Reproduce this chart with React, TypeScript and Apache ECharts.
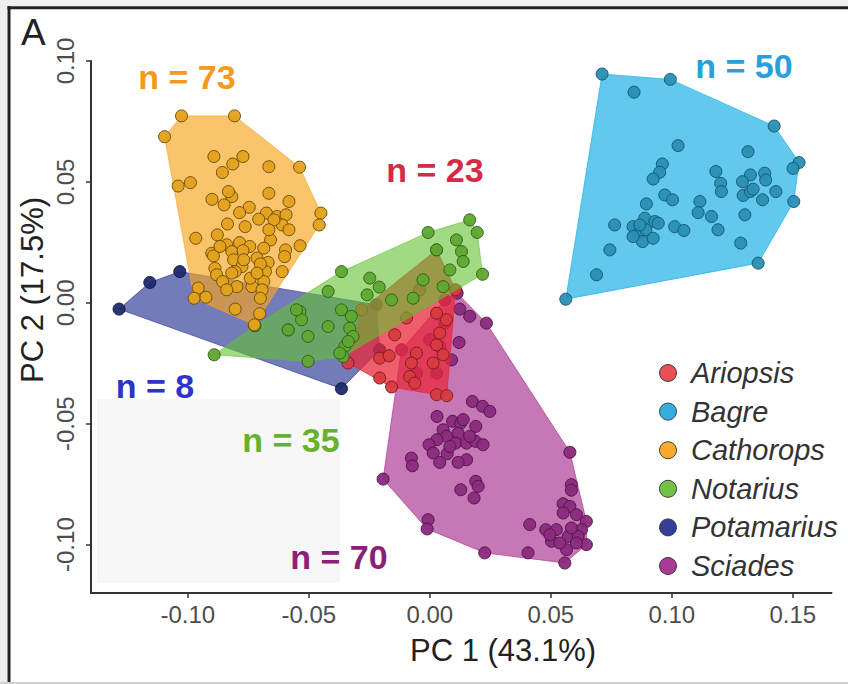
import React, { useEffect, useRef } from 'react';
import * as echarts from 'echarts';

const groups = ['Ariopsis', 'Bagre', 'Cathorops', 'Notarius', 'Potamarius', 'Sciades'];

const ariopsis: number[][] = [
  [-0.0338, -0.0249], [-0.0207, -0.0229], [-0.0168, -0.0219], [-0.0207, -0.0311], [-0.0158, -0.0348],
  [-0.0083, -0.0305], [-0.0062, -0.0332], [-0.0055, -0.0208], [-0.0076, -0.0249], [0.0014, -0.0249],
  [0.0055, -0.0215], [0.0028, -0.0380], [0.0041, -0.0125], [0.0069, -0.0070], [0.0028, -0.0043],
  [-0.0096, -0.0063], [0.0028, -0.0174], [-0.0282, -0.0029], [0.0028, 0.0219], [0.0107, 0.0054],
  [-0.0041, 0.0054], [-0.0145, -0.0132], [0.0070, -0.0384],
];

const bagre: number[][] = [
  [0.0712, 0.0946], [0.0994, 0.0924], [0.0844, 0.0871], [0.1423, 0.0731], [0.1526, 0.0580],
  [0.1501, 0.0556], [0.1504, 0.0419], [0.1357, 0.0164], [0.0562, 0.0015], [0.0689, 0.0116],
  [0.0744, 0.0219], [0.0764, 0.0322], [0.1026, 0.0650], [0.0961, 0.0574], [0.0950, 0.0540],
  [0.0923, 0.0512], [0.0971, 0.0446], [0.1003, 0.0426], [0.0895, 0.0409], [0.0888, 0.0350],
  [0.0840, 0.0315], [0.0861, 0.0285], [0.0930, 0.0336], [0.0893, 0.0302], [0.0879, 0.0253],
  [0.0923, 0.0267], [0.1012, 0.0315], [0.1050, 0.0299], [0.1116, 0.0419], [0.1109, 0.0373],
  [0.1164, 0.0357], [0.1191, 0.0302], [0.1182, 0.0543], [0.1202, 0.0494], [0.1205, 0.0460],
  [0.1315, 0.0625], [0.1325, 0.0529], [0.1292, 0.0501], [0.1295, 0.0444], [0.1325, 0.0460],
  [0.1384, 0.0536], [0.1388, 0.0508], [0.1375, 0.0426], [0.1430, 0.0460], [0.1302, 0.0364],
  [0.1285, 0.0247], [0.1336, 0.0470], [0.0868, 0.0322], [0.0840, 0.0274], [0.0944, 0.0329],
];

const cathorops: number[][] = [
  [-0.1026, 0.0773], [-0.0807, 0.0773], [-0.1096, 0.0687], [-0.0892, 0.0605], [-0.0772, 0.0605],
  [-0.0814, 0.0574], [-0.0857, 0.0539], [-0.0665, 0.0563], [-0.0538, 0.0561], [-0.1040, 0.0483],
  [-0.0989, 0.0497], [-0.0900, 0.0428], [-0.0818, 0.0439], [-0.0850, 0.0405], [-0.0665, 0.0453],
  [-0.0582, 0.0419], [-0.0746, 0.0395], [-0.0786, 0.0373], [-0.0675, 0.0371], [-0.0631, 0.0357],
  [-0.0594, 0.0364], [-0.0707, 0.0346], [-0.0836, 0.0326], [-0.0610, 0.0322], [-0.0582, 0.0302],
  [-0.0450, 0.0371], [-0.0457, 0.0322], [-0.0967, 0.0267], [-0.0878, 0.0281], [-0.0839, 0.0240],
  [-0.0786, 0.0249], [-0.0744, 0.0233], [-0.0658, 0.0260], [-0.0686, 0.0226], [-0.0596, 0.0219],
  [-0.0536, 0.0236], [-0.0901, 0.0205], [-0.0818, 0.0212], [-0.0772, 0.0216], [-0.0811, 0.0178],
  [-0.0714, 0.0185], [-0.0600, 0.0191], [-0.0668, 0.0167], [-0.0888, 0.0143], [-0.0776, 0.0150],
  [-0.0804, 0.0129], [-0.0679, 0.0129], [-0.0881, 0.0116], [-0.0856, 0.0088], [-0.0797, 0.0067],
  [-0.0735, 0.0067], [-0.0686, 0.0088], [-0.0839, 0.0054], [-0.0693, 0.0054], [-0.0957, 0.0061],
  [-0.0974, 0.0019], [-0.0925, 0.0023], [-0.0804, -0.0026], [-0.0700, 0.0019], [-0.0703, -0.0045],
  [-0.0725, -0.0091], [-0.0742, 0.0102], [-0.0644, 0.0343], [-0.0700, 0.0161], [-0.0832, 0.0460],
  [-0.0894, 0.0194], [-0.0769, 0.0178], [-0.0714, 0.0123], [-0.0665, 0.0302], [-0.0610, 0.0129],
  [-0.0763, 0.0315], [-0.0818, 0.0123], [-0.0867, 0.0233],
];

const notarius: number[][] = [
  [0.0165, 0.0343], [0.0196, 0.0291], [0.0218, 0.0118], [-0.0007, 0.0291], [-0.0365, 0.0129],
  [-0.0248, 0.0102], [-0.0209, 0.0065], [-0.0259, 0.0033], [-0.0420, 0.0047], [-0.0537, -0.0036],
  [-0.0530, -0.0070], [-0.0365, -0.0029], [-0.0324, -0.0056], [-0.0420, -0.0098], [-0.0503, -0.0139],
  [-0.0331, -0.0105], [-0.0317, -0.0139], [-0.0351, -0.0180], [-0.0358, -0.0222], [-0.0503, -0.0242],
  [0.0028, 0.0219], [0.0131, 0.0212], [0.0138, 0.0171], [0.0083, 0.0136], [-0.0028, 0.0095],
  [-0.0069, 0.0019], [-0.0158, 0.0012], [-0.0337, -0.0160], [-0.0372, -0.0208], [-0.0891, -0.0215],
  [-0.0723, -0.0095], [-0.0585, -0.0112], [-0.0551, -0.0029], [0.0055, 0.0067], [0.0110, 0.0260],
];

const potamarius: number[][] = [
  [-0.1284, -0.0026], [-0.1157, 0.0084], [-0.1033, 0.0129], [-0.0365, -0.0355],
  [-0.0221, -0.0008], [-0.0207, -0.0194], [-0.0585, -0.0112], [-0.0723, -0.0095],
];

const sciades: number[][] = [
  [0.0113, 0.0040], [0.0124, -0.0026], [0.0165, -0.0056], [0.0234, -0.0084], [0.0121, -0.0164],
  [0.0176, -0.0408], [0.0218, -0.0428], [0.0248, -0.0449], [0.0030, -0.0470], [0.0094, -0.0490],
  [0.0128, -0.0497], [0.0190, -0.0511], [0.0055, -0.0525], [0.0117, -0.0539], [0.0069, -0.0552],
  [0.0030, -0.0566], [-0.0003, -0.0587], [0.0107, -0.0580], [0.0152, -0.0580], [0.0189, -0.0573],
  [0.0220, -0.0587], [0.0072, -0.0624], [0.0152, -0.0649], [0.0117, -0.0660], [0.0041, -0.0660],
  [-0.0076, -0.0642], [-0.0072, -0.0674], [-0.0193, -0.0729], [0.0190, -0.0738], [0.0128, -0.0773],
  [0.0183, -0.0807], [0.0579, -0.0618], [0.0585, -0.0752], [0.0585, -0.0775], [0.0551, -0.0831],
  [0.0579, -0.0842], [0.0606, -0.0876], [0.0647, -0.0904], [0.0627, -0.0938], [0.0413, -0.0917],
  [0.0479, -0.0938], [0.0523, -0.0938], [0.0503, -0.0986], [0.0572, -0.0966], [0.0647, -0.1000],
  [0.0565, -0.1021], [0.0558, -0.1076], [0.0406, -0.1034], [0.0227, -0.1034], [-0.0007, -0.0897],
  [-0.0011, -0.0935], [-0.0117, -0.0194], [0.0062, -0.0084], [0.0000, -0.0153], [0.0090, -0.0236],
  [0.0138, -0.0483], [0.0083, -0.0594], [0.0165, -0.0552], [0.0537, -0.0993], [0.0613, -0.0966],
  [0.0551, -0.0869], [0.0585, -0.0931], [0.0496, -0.0959], [0.0014, -0.0621], [0.0200, -0.0759],
  [0.0606, -0.0993], [-0.0055, -0.0291], [0.0041, -0.0180], [0.0062, 0.0012], [0.0028, -0.0291],
];

const groupData: Record<string, number[][]> = {
  Ariopsis: ariopsis, Bagre: bagre, Cathorops: cathorops,
  Notarius: notarius, Potamarius: potamarius, Sciades: sciades,
};

const xTicks = [-0.1, -0.05, 0, 0.05, 0.1, 0.15];
const yTicks = [-0.1, -0.05, 0, 0.05, 0.1];

const countLabels = ['n = 23', 'n = 50', 'n = 73', 'n = 35', 'n = 8', 'n = 70'];

// styles
const hullFill: Record<string, string> = {
  Ariopsis: 'rgba(232,40,58,0.75)',
  Bagre: 'rgba(31,176,230,0.7)',
  Cathorops: 'rgba(247,165,31,0.65)',
  Notarius: 'rgba(98,194,46,0.6)',
  Potamarius: 'rgba(42,52,148,0.65)',
  Sciades: 'rgba(168,48,143,0.65)',
};
const ptFill: Record<string, string> = {
  Ariopsis: '#d83a3f', Bagre: '#2a8fb5', Cathorops: '#e3a21e',
  Notarius: '#5ea832', Potamarius: '#1f2a6b', Sciades: '#8a2a7d',
};
const ptBorder: Record<string, string> = {
  Ariopsis: '#7a1c20', Bagre: '#17566f', Cathorops: '#6e4b06',
  Notarius: '#335e18', Potamarius: '#0f1640', Sciades: '#4f1547',
};
const legendColor: Record<string, string> = {
  Ariopsis: '#e8474c', Bagre: '#2aa9df', Cathorops: '#f5a623',
  Notarius: '#6abd3c', Potamarius: '#283593', Sciades: '#a3308d',
};
const labelColors = ['#d42a45', '#2b9fd9', '#f39a1f', '#66b22c', '#2f33c8', '#8c2079'];
const labelPos = [[435, 170], [744, 66], [187, 77], [291, 440], [155, 386], [339, 557]];

// stacking: [hull z, points z]
const layerZ: Record<string, number[]> = {
  Sciades: [2, 3],
  Potamarius: [4, 4.5],
  Ariopsis: [5, 6],
  Notarius: [7, 8],
  Cathorops: [9, 10],
  Bagre: [11, 12],
};

const FONT = '"Liberation Sans", Arial, Helvetica, sans-serif';

function convexHull(points: number[][]): number[][] {
  const p = points.slice().sort((a, b) => a[0] - b[0] || a[1] - b[1]);
  const cross = (o: number[], a: number[], b: number[]) =>
    (a[0] - o[0]) * (b[1] - o[1]) - (a[1] - o[1]) * (b[0] - o[0]);
  const lower: number[][] = [];
  for (const pt of p) {
    while (lower.length >= 2 && cross(lower[lower.length - 2], lower[lower.length - 1], pt) <= 0) lower.pop();
    lower.push(pt);
  }
  const upper: number[][] = [];
  for (let i = p.length - 1; i >= 0; i--) {
    const pt = p[i];
    while (upper.length >= 2 && cross(upper[upper.length - 2], upper[upper.length - 1], pt) <= 0) upper.pop();
    upper.push(pt);
  }
  upper.pop();
  lower.pop();
  return lower.concat(upper);
}

export default function App() {
  const ref = useRef<HTMLDivElement>(null);

  useEffect(() => {
    if (!ref.current) return;
    const chart = echarts.init(ref.current, null, { renderer: 'svg' });

    const hullSeries = groups.map((g) => {
      const hull = convexHull(groupData[g]);
      return {
        type: 'custom',
        name: g + ' hull',
        z: layerZ[g][0],
        silent: true,
        data: [[0, 0]],
        renderItem: (_params: any, api: any) => ({
          type: 'polygon',
          shape: { points: hull.map((p) => api.coord(p)) },
          style: { fill: hullFill[g], stroke: hullFill[g], lineWidth: 1 },
        }),
      };
    });

    const pointSeries = groups.map((g) => ({
      type: 'scatter',
      name: g,
      z: layerZ[g][1],
      data: groupData[g],
      symbol: 'circle',
      symbolSize: 12,
      itemStyle: { color: ptFill[g], borderColor: ptBorder[g], borderWidth: 1, opacity: 0.95 },
    }));

    const graphics: any[] = [
      { type: 'rect', z: 0, shape: { x: 0, y: 0, width: 7, height: 684 }, style: { fill: '#efefef' } },
      { type: 'rect', z: 0, shape: { x: 0, y: 0, width: 848, height: 6 }, style: { fill: '#efefef' } },
      { type: 'line', z: 50, shape: { x1: 9, y1: 6, x2: 9, y2: 684 }, style: { stroke: '#222', lineWidth: 3 } },
      { type: 'line', z: 50, shape: { x1: 7.5, y1: 7.7, x2: 848, y2: 7.7 }, style: { stroke: '#222', lineWidth: 3 } },
      { type: 'rect', z: 50, shape: { x: 0, y: 682, width: 848, height: 2 }, style: { fill: '#d0d0d0' } },
      { type: 'rect', z: 20, shape: { x: 97, y: 399, width: 243, height: 184 }, style: { fill: '#f7f7f7' } },
      {
        type: 'text', z: 60, x: 21, y: 32,
        style: { text: 'A', fontSize: 37, fontFamily: FONT, fill: '#222', textAlign: 'left', textVerticalAlign: 'middle' },
      },
      {
        type: 'text', z: 60, x: 503, y: 650,
        style: { text: 'PC 1 (43.1%)', fontSize: 31, fontFamily: FONT, fill: '#222', textAlign: 'center', textVerticalAlign: 'middle' },
      },
      {
        type: 'text', z: 60, x: 32, y: 290, rotation: Math.PI / 2,
        style: { text: 'PC 2 (17.5%)', fontSize: 31, fontFamily: FONT, fill: '#222', textAlign: 'center', textVerticalAlign: 'middle' },
      },
    ];
    countLabels.forEach((t, i) => {
      graphics.push({
        type: 'text', z: 60, x: labelPos[i][0], y: labelPos[i][1],
        style: {
          text: t, fontSize: 34, fontWeight: 'bold', fontFamily: FONT, fill: labelColors[i],
          textAlign: 'center', textVerticalAlign: 'middle',
        },
      });
    });

    const option: any = {
      animation: false,
      backgroundColor: '#ffffff',
      grid: { left: 91, right: 16.5, top: 61, bottom: 91, containLabel: false, outerBoundsMode: 'none' },
      xAxis: {
        type: 'value', min: -0.14, max: 0.166,
        splitLine: { show: false },
        axisLine: { show: true, onZero: false, lineStyle: { color: '#333', width: 2 } },
        axisTick: { show: true, customValues: xTicks, length: 5, lineStyle: { color: '#333', width: 1.5 } },
        axisLabel: {
          customValues: xTicks, formatter: (v: number) => v.toFixed(2),
          fontSize: 24, color: '#4d4d4d', fontFamily: FONT, margin: 9,
        },
      },
      yAxis: {
        type: 'value', min: -0.12, max: 0.1,
        splitLine: { show: false },
        axisLine: { show: true, onZero: false, lineStyle: { color: '#333', width: 2 } },
        axisTick: { show: true, customValues: yTicks, length: 5, lineStyle: { color: '#333', width: 1.5 } },
        axisLabel: {
          customValues: yTicks, formatter: (v: number) => v.toFixed(2), rotate: 90,
          fontSize: 24, color: '#4d4d4d', fontFamily: FONT, margin: 14,
        },
      },
      legend: {
        orient: 'vertical', left: 654, top: 353.5,
        itemWidth: 36, itemHeight: 17, itemGap: 9.6, icon: 'circle',
        selectedMode: false,
        textStyle: { fontSize: 29, fontStyle: 'italic', color: '#333', fontFamily: FONT, lineHeight: 29 },
        data: groups.map((g) => ({
          name: g,
          itemStyle: { color: legendColor[g], borderColor: '#3a3a3a', borderWidth: 1 },
        })),
      },
      graphic: graphics,
      series: [...hullSeries, ...pointSeries],
    };

    chart.setOption(option);
    return () => chart.dispose();
  }, []);

  return (
    <div
      ref={ref}
      style={{ position: 'fixed', left: 0, top: 0, width: 848, height: 684, background: '#fff' }}
    />
  );
}
